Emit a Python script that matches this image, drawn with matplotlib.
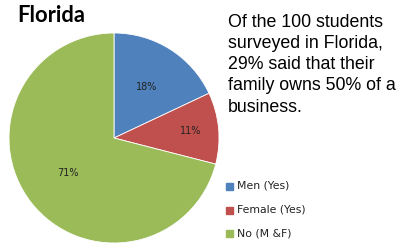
import numpy as np
import matplotlib
matplotlib.use("Agg")
import matplotlib.pyplot as plt

# survey answers, Florida
labels = ["Men (Yes)", "Female (Yes)", "No (M &F)"]
shares = [18, 11, 71]
colors = ["#4F81BD", "#C0504D", "#9BBB59"]
title = "Florida"
note = "Of the 100 students\nsurveyed in Florida,\n29% said that their\nfamily owns 50% of a\nbusiness."

fig = plt.figure(figsize=(4, 2.5), dpi=100)
fig.patch.set_facecolor("white")

ax = fig.add_axes([0.0225, 0.028, 0.525, 0.84])
wedges, texts, autotexts = ax.pie(shares, colors=colors, startangle=90, counterclock=False,
                                  autopct="%d%%", pctdistance=0.58,
                                  textprops={"fontsize": 7, "color": "#222222"},
                                  wedgeprops={"linewidth": 0.6, "edgecolor": "white"})
ax.set_xlim(-1, 1)
ax.set_ylim(-1, 1)
ax.set_aspect("equal")

# push the small slice's label further out, like the original
label_r = [0.58, 0.73, 0.55]
for w, t, r in zip(wedges, autotexts, label_r):
    ang = np.deg2rad((w.theta1 + w.theta2) / 2)
    t.set_position((r * np.cos(ang), r * np.sin(ang)))

fig.text(17 / 400, 1 - 22 / 250, title, fontsize=15.8, fontweight="bold",
         family=["Lato", "DejaVu Sans"], va="baseline", ha="left")
fig.text(228 / 400, 1 - 14 / 250, note, fontsize=12.8, family="Liberation Sans",
         va="top", ha="left", linespacing=1.32)

# legend
leg_y = [186, 210, 233]
for lab, c, y in zip(labels, colors, leg_y):
    fig.patches.append(plt.Rectangle((226 / 400, 1 - (y + 3.5) / 250), 7 / 400, 7 / 250,
                                     transform=fig.transFigure, color=c))
    fig.text(237 / 400, 1 - y / 250, lab, fontsize=7.8, family="DejaVu Sans",
             color="#222222", va="center", ha="left")

fig.savefig("out.png", dpi=100)
